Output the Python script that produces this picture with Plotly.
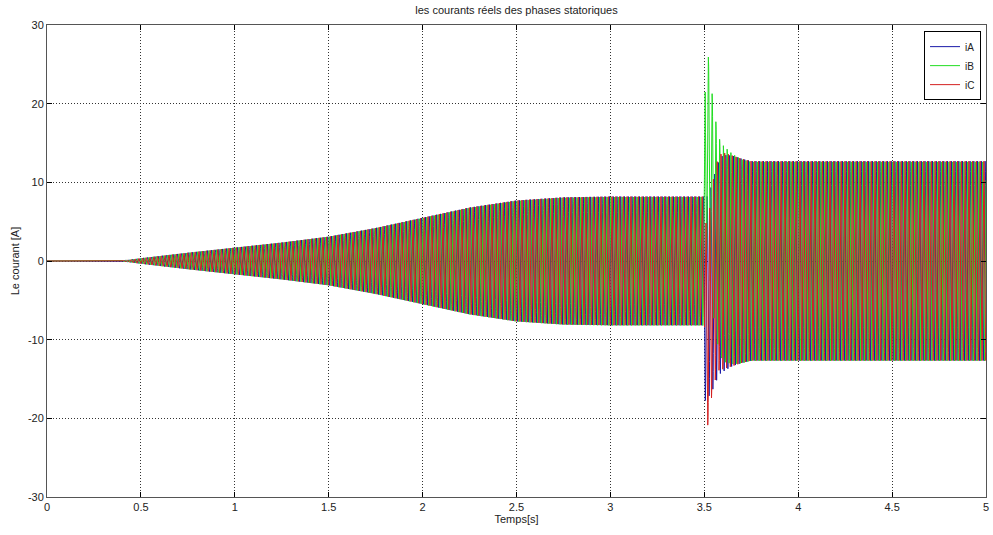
import numpy as np
import plotly.graph_objects as go

# ---- data ----
title_text = "les courants réels des phases statoriques"
x_label = "Temps[s]"
y_label = "Le courant [A]"
series_names = ["iA", "iB", "iC"]
series_colors = ["#1a1aa8", "#22dd22", "#d42020"]

x_tick_vals = [0, 0.5, 1, 1.5, 2, 2.5, 3, 3.5, 4, 4.5, 5]
x_tick_text = ["0", "0.5", "1", "1.5", "2", "2.5", "3", "3.5", "4", "4.5", "5"]
y_tick_vals = [-30, -20, -10, 0, 10, 20, 30]
y_tick_text = ["-30", "-20", "-10", "0", "10", "20", "30"]

# current amplitude envelope (A) at key times (s)
env_t = [0.0, 0.38, 0.50, 0.75, 1.00, 1.25, 1.50, 1.75, 2.00, 2.25, 2.50, 2.75, 3.00, 3.50, 3.505, 3.53, 3.56, 3.60, 3.65, 3.70, 3.75, 5.00]
env_a = [0.0, 0.00, 0.35, 1.05, 1.70, 2.35, 3.10, 4.20, 5.50, 6.80, 7.70, 8.10, 8.20, 8.20, 12.8, 13.0, 13.5, 13.8, 13.4, 13.0, 12.7, 12.7]

# transient offsets after the load step at 3.5 s
dc_t = [3.50, 3.505, 3.52, 3.54, 3.56, 3.58, 3.60, 3.65, 3.70]
dc_A = [0.0, -5.0, -4.5, -3.5, -2.0, -0.8, -0.3, 0.0, 0.0]
dc_B = [0.0, 14.0, 13.5, 8.5, 4.5, 2.0, 1.0, 0.3, 0.0]
dc_C = [0.0, -8.0, -8.0, -4.0, -1.5, -0.2, 0.0, 0.0, 0.0]

freq_hz = 50.0
phase0 = 0.9667 * np.pi
phase_shift = [0.0, -2 * np.pi / 3, 2 * np.pi / 3]

# ---- build waveforms ----
t = np.arange(0.0, 5.0 + 1e-9, 0.0008)
amp = np.interp(t, env_t, env_a)
dcs = [np.interp(t, dc_t, d, left=0.0, right=0.0) for d in (dc_A, dc_B, dc_C)]

fig = go.Figure()
for k in range(3):
    y = amp * np.sin(2 * np.pi * freq_hz * t + phase0 + phase_shift[k]) + dcs[k]
    fig.add_trace(go.Scatter(x=t, y=y, mode="lines", name=series_names[k],
                             line=dict(color=series_colors[k], width=1)))

font_family = "Liberation Sans, Arial, sans-serif"
axis_common = dict(
    showline=True, linecolor="#555", linewidth=1, mirror="ticks",
    ticks="inside", ticklen=5, tickcolor="#000", tickwidth=1,
    showgrid=True, gridcolor="#333", gridwidth=1, griddash="1px,2px",
    zeroline=False, tickfont=dict(size=11, color="#222", family=font_family),
)

fig.update_layout(
    width=993, height=535,
    margin=dict(l=47, r=4, t=25, b=38),
    paper_bgcolor="white", plot_bgcolor="white",
    font=dict(family=font_family, size=11, color="#222"),
    title=dict(text=title_text, x=0.5, xref="paper", xanchor="center",
               y=1 - 10 / 535, yref="container", yanchor="middle",
               font=dict(size=11, color="#222")),
    xaxis=dict(range=[0, 5], tickvals=x_tick_vals, ticktext=x_tick_text,
               title=dict(text=x_label, standoff=3, font=dict(size=11)), **axis_common),
    yaxis=dict(range=[-30, 30], tickvals=y_tick_vals, ticktext=y_tick_text,
               title=dict(text=y_label, standoff=6, font=dict(size=11)), **axis_common),
    showlegend=True,
    legend=dict(x=0.9947, y=0.987, xanchor="right", yanchor="top",
                bgcolor="white", bordercolor="#000", borderwidth=1,
                font=dict(size=10, color="#222"), tracegroupgap=0,
                itemwidth=30),
)

fig.write_html("out.html")
